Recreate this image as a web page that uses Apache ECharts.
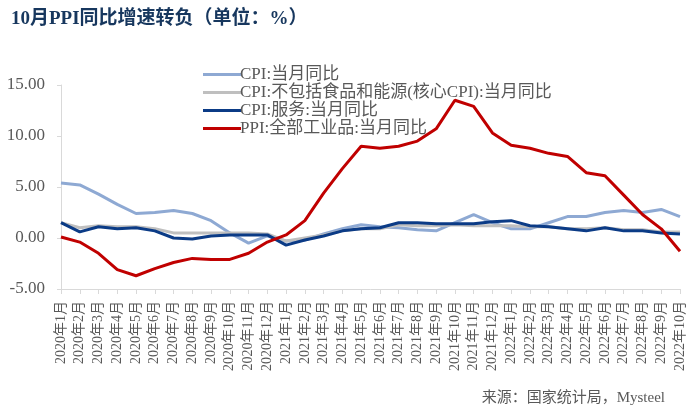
<!DOCTYPE html>
<html><head><meta charset="utf-8">
<script src="https://cdn.jsdelivr.net/npm/echarts@6/dist/echarts.min.js"></script>
<style>html,body{margin:0;padding:0;background:#fff}#c{width:700px;height:415px}</style>
</head><body><div id="c"></div>
<script>
const categories = [
 "2020年1月","2020年2月","2020年3月","2020年4月","2020年5月","2020年6月","2020年7月","2020年8月","2020年9月","2020年10月","2020年11月","2020年12月",
 "2021年1月","2021年2月","2021年3月","2021年4月","2021年5月","2021年6月","2021年7月","2021年8月","2021年9月","2021年10月","2021年11月","2021年12月",
 "2022年1月","2022年2月","2022年3月","2022年4月","2022年5月","2022年6月","2022年7月","2022年8月","2022年9月","2022年10月"];
const cpi = [5.4,5.2,4.3,3.3,2.4,2.5,2.7,2.4,1.7,0.5,-0.5,0.2, -0.3,-0.2,0.4,0.9,1.3,1.1,1.0,0.8,0.7,1.5,2.3,1.5, 0.9,0.9,1.5,2.1,2.1,2.5,2.7,2.5,2.8,2.1];
const coreCpi = [1.5,1.0,1.2,1.1,1.1,0.9,0.5,0.5,0.5,0.5,0.5,0.4, -0.3,0.0,0.3,0.7,0.9,0.9,1.3,1.2,1.2,1.3,1.2,1.2, 1.2,1.1,1.1,0.9,0.9,1.0,0.8,0.8,0.6,0.6];
const services = [1.5,0.6,1.1,0.9,1.0,0.7,0.0,-0.1,0.2,0.3,0.3,0.3, -0.7,-0.2,0.2,0.7,0.9,1.0,1.5,1.5,1.4,1.4,1.4,1.6, 1.7,1.2,1.1,0.9,0.7,1.0,0.7,0.7,0.5,0.4];
const ppi = [0.1,-0.4,-1.5,-3.1,-3.7,-3.0,-2.4,-2.0,-2.1,-2.1,-1.5,-0.4, 0.3,1.7,4.4,6.8,9.0,8.8,9.0,9.5,10.7,13.5,12.9,10.3, 9.1,8.8,8.3,8.0,6.4,6.1,4.2,2.3,0.9,-1.3];
const seriesNames = ["CPI:当月同比","CPI:不包括食品和能源(核心CPI):当月同比","CPI:服务:当月同比","PPI:全部工业品:当月同比"];
const yTicks = {min:-5, max:15, interval:5};

const serif = "'Liberation Serif','Times New Roman','Noto Sans CJK SC',serif";
const colors = ["#8EA9D3","#BFBFBF","#0B3B86","#C00000"];
const chart = echarts.init(document.getElementById('c'), null, {renderer:'canvas'});
const mk = (name, data, i) => ({
  name, type:'line', data, symbol:'none', smooth:false,
  lineStyle:{width:3, color:colors[i]}, itemStyle:{color:colors[i]}, z: 2+i
});
chart.setOption({
  animation:false,
  backgroundColor:'#fff',
  title:[{
    text:'10月PPI同比增速转负（单位：%）', left:6, top:5,
    textStyle:{fontFamily:serif, fontWeight:'bold', fontSize:19, color:'#17375E'}
  },{
    text:'来源：国家统计局，Mysteel', right:30, top:386,
    textStyle:{fontFamily:serif, fontWeight:'normal', fontSize:15, color:'#595959'}
  }],
  legend:{
    orient:'vertical', left:198, top:61, itemGap:1, itemWidth:38, itemHeight:17,
    icon:'path://M0,7 L38,7 L38,10 L0,10 Z',
    textStyle:{fontFamily:serif, fontSize:17, color:'#595959', padding:[0,0,0,-6]},
    data: seriesNames
  },
  grid:{left:61, right:20, top:85, bottom:126, containLabel:false},
  xAxis:{
    type:'category', data:categories, boundaryGap:false,
    axisLine:{onZero:false, lineStyle:{color:'#D9D9D9', width:1}},
    axisTick:{show:true, alignWithLabel:true, length:5, lineStyle:{color:'#D9D9D9'}},
    axisLabel:{interval:0, rotate:90, fontFamily:serif, fontSize:14, color:'#595959', margin:12},
    splitLine:{show:false}
  },
  yAxis:{
    type:'value', min:yTicks.min, max:yTicks.max, interval:yTicks.interval,
    axisLine:{show:true, lineStyle:{color:'#D9D9D9', width:1}},
    axisTick:{show:true, length:4, lineStyle:{color:'#D9D9D9'}},
    axisLabel:{fontFamily:serif, fontSize:17, color:'#595959', margin:16, formatter:v=>v.toFixed(2)},
    splitLine:{show:false}
  },
  series:[mk(seriesNames[0],cpi,0), mk(seriesNames[1],coreCpi,1), mk(seriesNames[2],services,2), mk(seriesNames[3],ppi,3)]
});
</script></body></html>
